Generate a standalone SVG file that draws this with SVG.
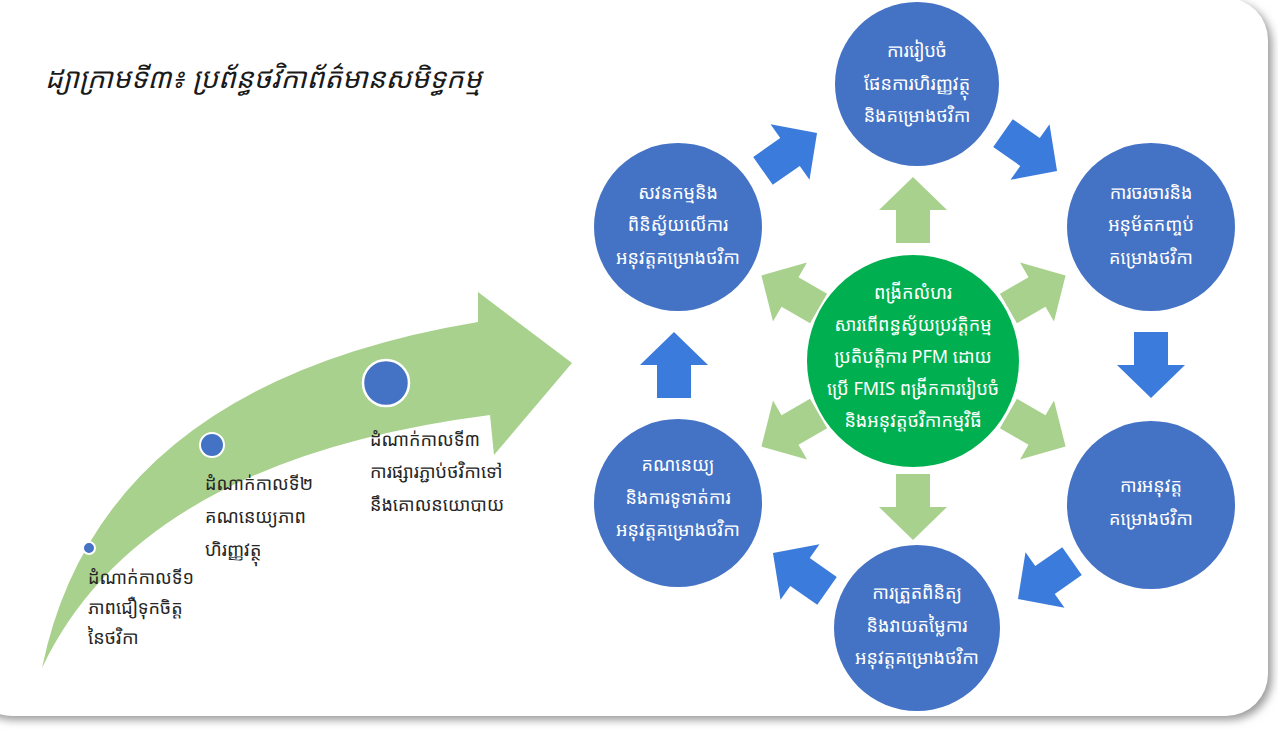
<svg xmlns="http://www.w3.org/2000/svg" width="1278" height="732" viewBox="0 0 1278 732">
<defs>
<filter id="sh" x="-5%" y="-5%" width="110%" height="110%"><feGaussianBlur stdDeviation="4"/></filter>
<path id="arr" d="M -33 -17 L 0 -17 L 0 -34 L 33 0 L 0 34 L 0 17 L -33 17 Z"/>
<style>
.kh{font-family:"Noto Sans Khmer","Khmer OS","Khmer OS System","Noto Serif Khmer",sans-serif;}
.ct{fill:#ffffff;font-size:18px;text-anchor:middle;}
.st{fill:#262626;font-size:18px;}
.blue{fill:#4472C4;}
.ba{fill:#3B7BDB;}
.ga{fill:#A9D18E;}
</style>
</defs>
<rect x="0" y="0" width="1278" height="732" fill="#ffffff"/>
<rect x="-30" y="2" width="1302" height="718" rx="42" fill="#9a9a9a" filter="url(#sh)"/>
<rect x="-30" y="-2" width="1298" height="718" rx="42" fill="#ffffff"/>
<text x="45" y="88" class="kh" font-size="28" font-style="italic" fill="#1a1a1a">ដ្យាក្រាមទី៣៖ ប្រព័ន្ធថវិកាព័ត៌មានសមិទ្ធកម្ម</text>
<g id="curved-arrow">
<path class="ga" d="M 42 668 Q 100 385 478 322 L 478 292 L 572 363 L 494 455 L 490 415 Q 140 460 42 668 Z"/>
<circle cx="89" cy="548" r="6" class="blue" stroke="#ffffff" stroke-width="2"/>
<circle cx="212" cy="445" r="12" class="blue" stroke="#ffffff" stroke-width="2"/>
<circle cx="386" cy="383" r="23" class="blue" stroke="#ffffff" stroke-width="2.5"/>
</g>
<g id="stage1"><text class="kh st" x="88" y="584">ដំណាក់កាលទី១</text><text class="kh st" x="88" y="614">ភាពជឿទុកចិត្ត</text><text class="kh st" x="88" y="644">នៃថវិកា</text></g>
<g id="stage2"><text class="kh st" x="205" y="490">ដំណាក់កាលទី២</text><text class="kh st" x="205" y="523">គណនេយ្យភាព</text><text class="kh st" x="205" y="556">ហិរញ្ញវត្ថុ</text></g>
<g id="stage3"><text class="kh st" x="370" y="446">ដំណាក់កាលទី៣</text><text class="kh st" x="370" y="478">ការផ្សារភ្ជាប់ថវិកាទៅ</text><text class="kh st" x="370" y="511">នឹងគោលនយោបាយ</text></g>
<g id="connectors">
<use href="#arr" class="ba" transform="translate(674,365) rotate(-90)"/>
<use href="#arr" class="ba" transform="translate(1151,365) rotate(90)"/>
<use href="#arr" class="ba" transform="translate(790,152) rotate(-35)"/>
<use href="#arr" class="ba" transform="translate(1030,152) rotate(35)"/>
<use href="#arr" class="ba" transform="translate(1045,580) rotate(145)"/>
<use href="#arr" class="ba" transform="translate(800,572) rotate(215)"/>
<use href="#arr" class="ga" transform="translate(913,210) rotate(-90)"/>
<use href="#arr" class="ga" transform="translate(913,507) rotate(90)"/>
<use href="#arr" class="ga" transform="translate(790,292) rotate(210)"/>
<use href="#arr" class="ga" transform="translate(1037,292) rotate(-30)"/>
<use href="#arr" class="ga" transform="translate(790,430) rotate(150)"/>
<use href="#arr" class="ga" transform="translate(1037,430) rotate(30)"/>
</g>
<g id="n-top"><circle cx="917" cy="84" r="82" class="blue"/><text class="kh ct" x="917" y="57">ការរៀបចំ</text><text class="kh ct" x="917" y="90">ផែនការហិរញ្ញវត្ថុ</text><text class="kh ct" x="917" y="122">និងគម្រោងថវិកា</text></g>
<g id="n-topleft"><circle cx="678" cy="227" r="84" class="blue"/><text class="kh ct" x="678" y="199">សវនកម្មនិង</text><text class="kh ct" x="678" y="231">ពិនិស្វ័យលើការ</text><text class="kh ct" x="678" y="264">អនុវត្តគម្រោងថវិកា</text></g>
<g id="n-topright"><circle cx="1151" cy="227" r="84" class="blue"/><text class="kh ct" x="1151" y="199">ការចរចារនិង</text><text class="kh ct" x="1151" y="231">អនុម័តកញ្ចប់</text><text class="kh ct" x="1151" y="264">គម្រោងថវិកា</text></g>
<g id="n-botleft"><circle cx="678" cy="503" r="84" class="blue"/><text class="kh ct" x="678" y="471">គណនេយ្យ</text><text class="kh ct" x="678" y="504">និងការទូទាត់ការ</text><text class="kh ct" x="678" y="536">អនុវត្តគម្រោងថវិកា</text></g>
<g id="n-botright"><circle cx="1151" cy="505" r="84" class="blue"/><text class="kh ct" x="1151" y="492">ការអនុវត្ត</text><text class="kh ct" x="1151" y="525">គម្រោងថវិកា</text></g>
<g id="n-bottom"><circle cx="917" cy="628" r="83" class="blue"/><text class="kh ct" x="917" y="599">ការត្រួតពិនិត្យ</text><text class="kh ct" x="917" y="632">និងវាយតម្លៃការ</text><text class="kh ct" x="917" y="664">អនុវត្តគម្រោងថវិកា</text></g>
<g id="n-center"><circle cx="913" cy="361" r="106" fill="#00B050"/><text class="kh ct" x="913" y="299">ពង្រីកលំហរ</text><text class="kh ct" x="913" y="331">សារពើពន្ធស្វ័យប្រវត្តិកម្ម</text><text class="kh ct" x="913" y="363">ប្រតិបត្តិការ PFM ដោយ</text><text class="kh ct" x="913" y="395">ប្រើ FMIS ពង្រីកការរៀបចំ</text><text class="kh ct" x="913" y="427">និងអនុវត្តថវិកាកម្មវិធី</text></g>
</svg>
